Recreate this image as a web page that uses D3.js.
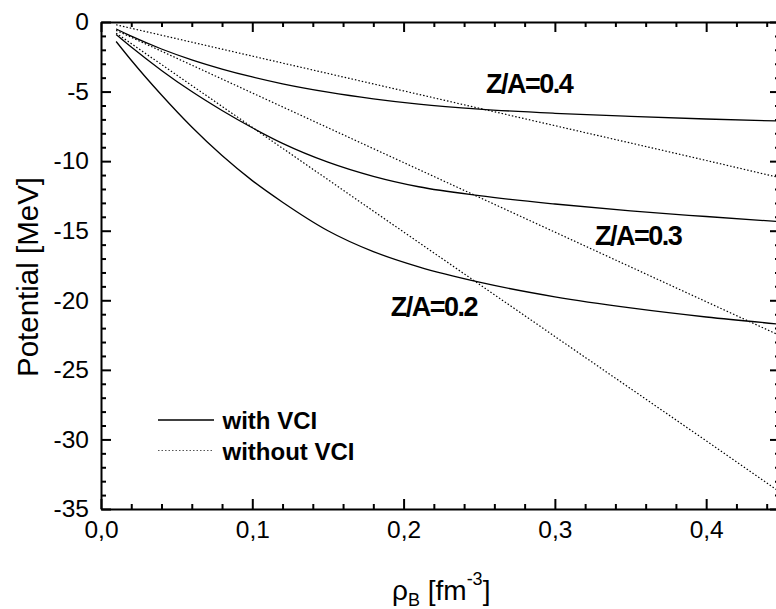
<!DOCTYPE html>
<html>
<head>
<meta charset="utf-8">
<script src="https://cdn.jsdelivr.net/npm/d3@7"></script>
<style>
    body { margin: 0; background: #fff; }
    svg { display: block; font-family: "Liberation Sans", Arial, sans-serif; }
    .axis path, .axis line { stroke: #000; stroke-width: 2; }
    .axis text { font-size: 24.5px; fill: #000; }
    .curve { fill: none; stroke: #000; stroke-width: 1.3; }
    .curve--novci { stroke-width: 1.2; stroke-dasharray: 1.5,2; }
</style>
</head>
<body>
<div id="chart"></div>
<script>
// baryon density grid for the curves with VCI [fm^-3]
var rhoVci = [0.01, 0.02, 0.04, 0.06, 0.08, 0.10, 0.12, 0.15, 0.18, 0.21, 0.25, 0.30, 0.35, 0.40, 0.449];
var vci04 = [-0.5, -1.02, -1.94, -2.72, -3.38, -3.95, -4.44, -5.04, -5.52, -5.9, -6.26, -6.56, -6.78, -6.97, -7.12];
var vci03 = [-0.9, -1.8, -3.48, -5.0, -6.36, -7.6, -8.72, -10.07, -11.09, -11.84, -12.48, -13.08, -13.58, -13.98, -14.35];
var vci02 = [-1.4, -2.75, -5.25, -7.55, -9.6, -11.4, -12.95, -15.0, -16.5, -17.6, -18.7, -19.75, -20.55, -21.2, -21.72];

// curves without VCI are almost straight, fewer points needed
var rhoNoVci = [0.01, 0.10, 0.20, 0.30, 0.40, 0.449];
var noVci04 = [-0.2, -2.45, -4.95, -7.45, -9.95, -11.2];
var noVci03 = [-0.6, -5.1, -10.1, -15.1, -20.1, -22.55];
var noVci02 = [-0.8, -7.57, -15.09, -22.6, -30.1, -33.8];

var xMajor = [0, 0.1, 0.2, 0.3, 0.4];
var yMajor = [0, -5, -10, -15, -20, -25, -30, -35];
var curveLabels = [
    { text: "Z/A=0.4", rho: 0.2545, pot: -5.1 },
    { text: "Z/A=0.3", rho: 0.3265, pot: -16.03 },
    { text: "Z/A=0.2", rho: 0.1915, pot: -21.1 }
];
var legendItems = [
    { text: "with VCI", dotted: false },
    { text: "without VCI", dotted: true }
];

var width = 776, height = 609,
    margin = { top: 22, right: -4, bottom: 100, left: 101 };

var svg = d3.select("#chart").append("svg")
    .attr("width", width)
    .attr("height", height);

var x = d3.scaleLinear().domain([0, 0.4488]).range([margin.left, width - margin.right]);
var y = d3.scaleLinear().domain([0, -35]).range([margin.top, height - margin.bottom]);

var xMinor = d3.range(0, 0.449, 0.02).filter(function (d) { return Math.round(d * 100) % 10 !== 0; });
var yMinor = d3.range(0, -35.5, -1).filter(function (d) { return d % 5 !== 0; });

svg.append("clipPath").attr("id", "plot")
    .append("rect")
    .attr("x", x(0)).attr("y", y(0))
    .attr("width", x(0.4488) - x(0)).attr("height", y(-35) - y(0));

// axes with inward ticks on all four sides
function drawAxis(axisFn, scale, translate, major, minor, labels) {
    var fmt = labels || function () { return ""; };
    svg.append("g").attr("class", "axis")
        .attr("transform", translate)
        .call(axisFn(scale).tickValues(minor).tickSize(-5).tickSizeOuter(0).tickFormat(""))
        .select(".domain").remove();
    svg.append("g").attr("class", "axis")
        .attr("transform", translate)
        .call(axisFn(scale).tickValues(major).tickSize(-10).tickSizeOuter(0).tickPadding(labels ? 12 : 0).tickFormat(fmt));
}

var commaFmt = function (d) { return d3.format(".1f")(d).replace(".", ","); };
drawAxis(d3.axisBottom, x, "translate(0," + y(-35) + ")", xMajor, xMinor, commaFmt);
drawAxis(d3.axisTop, x, "translate(0," + y(0) + ")", xMajor, xMinor, null);
drawAxis(d3.axisLeft, y, "translate(" + x(0) + ",0)", yMajor, yMinor, function (d) { return String(d); });
drawAxis(d3.axisRight, y, "translate(" + x(0.4488) + ",0)", yMajor, yMinor, null);

svg.selectAll(".axis text").attr("fill", "#000");

// curves
var line = d3.line()
    .x(function (d) { return x(d[0]); })
    .y(function (d) { return y(d[1]); })
    .curve(d3.curveMonotoneX);

var series = [
    { rho: rhoVci, pot: vci04, dotted: false },
    { rho: rhoVci, pot: vci03, dotted: false },
    { rho: rhoVci, pot: vci02, dotted: false },
    { rho: rhoNoVci, pot: noVci04, dotted: true },
    { rho: rhoNoVci, pot: noVci03, dotted: true },
    { rho: rhoNoVci, pot: noVci02, dotted: true }
];

svg.append("g").attr("clip-path", "url(#plot)")
    .selectAll("path")
    .data(series)
    .enter().append("path")
    .attr("class", function (d) { return "curve" + (d.dotted ? " curve--novci" : ""); })
    .attr("d", function (d) { return line(d3.zip(d.rho, d.pot)); });

// curve labels
svg.selectAll(".za")
    .data(curveLabels)
    .enter().append("text")
    .attr("class", "za")
    .attr("x", function (d) { return x(d.rho); })
    .attr("y", function (d) { return y(d.pot); })
    .style("font-size", "27px")
    .style("font-weight", "bold")
    .style("letter-spacing", "-1.5px")
    .text(function (d) { return d.text; });

// legend
var legend = svg.append("g").attr("transform", "translate(158,420)");
var item = legend.selectAll("g")
    .data(legendItems)
    .enter().append("g")
    .attr("transform", function (d, i) { return "translate(0," + i * 30.5 + ")"; });
item.append("line")
    .attr("class", function (d) { return "curve" + (d.dotted ? " curve--novci" : ""); })
    .attr("x1", 0).attr("x2", 56).attr("y1", 0).attr("y2", 0)
    .style("stroke", function (d) { return d.dotted ? "#555" : "#000"; });
item.append("text")
    .attr("x", 64.5).attr("y", 9.3)
    .style("font-size", "24px")
    .style("font-weight", "bold")
    .text(function (d) { return d.text; });

// axis titles
svg.append("text")
    .attr("transform", "translate(37.5,277) rotate(-90)")
    .attr("text-anchor", "middle")
    .style("font-size", "29.5px")
    .text("Potential [MeV]");

var xTitle = svg.append("text")
    .attr("x", 392).attr("y", 600)
    .style("font-size", "28px");
xTitle.append("tspan").text("ρ");
xTitle.append("tspan").attr("dy", 6).style("font-size", "18px").text("B");
xTitle.append("tspan").attr("dy", -6).text(" [fm");
xTitle.append("tspan").attr("dy", -15).style("font-size", "18px").text("-3");
xTitle.append("tspan").attr("dy", 15).text("]");
</script>
</body>
</html>
